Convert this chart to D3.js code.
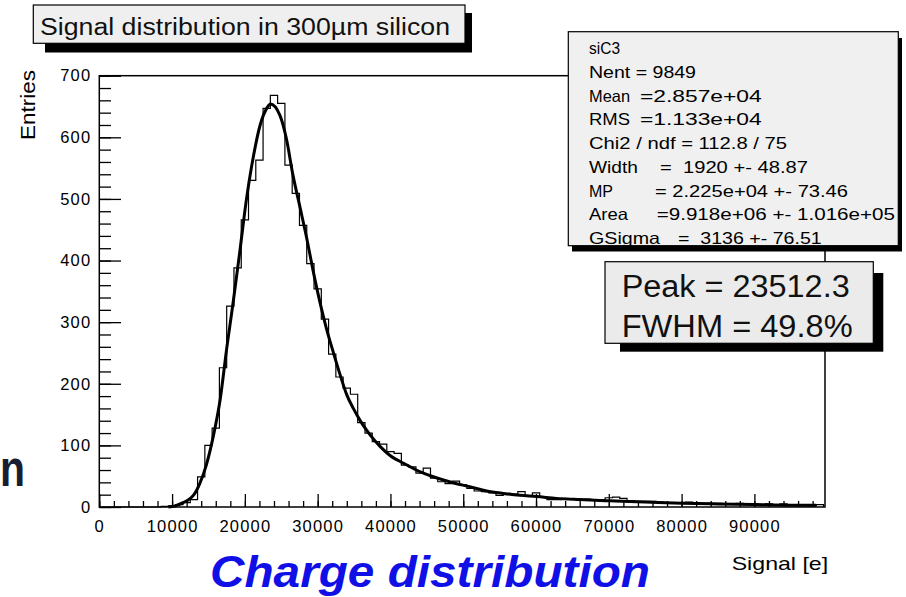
<!DOCTYPE html>
<html>
<head>
<meta charset="utf-8">
<script src="https://cdn.jsdelivr.net/npm/d3@7"></script>
<style>
  html, body { margin: 0; padding: 0; background: #ffffff; }
  svg { display: block; font-family: "Liberation Sans", Arial, Helvetica, sans-serif; }
  text { white-space: pre; }
</style>
</head>
<body>
<svg id="chart" width="906" height="597"></svg>
<script>
// ---- data -------------------------------------------------------------
// Histogram "siC3": bins of 1000 e, first listed bin covers 8500..9500
const binWidth = 1000;
const firstBinLow = 8500;
const counts = [
  1, 2, 4, 7, 12, 49, 100, 128, 226, 326,
  388, 466, 530, 563, 647, 668, 655, 555, 509, 457,
  395, 354, 305, 248, 211, 193, 183, 137, 120, 106,
  102, 90, 87, 68, 65, 55, 63, 47, 41, 38,
  42, 36, 30, 26, 25, 23, 19, 22, 21, 25,
  18, 23, 17, 12, 12, 14, 13, 12, 13, 11,
  12, 15, 16, 14, 10, 9, 9, 9, 8, 6,
  6, 7, 8, 7, 6, 6, 6, 5, 5, 6,
  4, 5, 3, 5, 3, 5, 4, 3, 3, 2, 4
];

// Fitted Landau (x) Gauss curve, sampled points
const fitX = [9500, 10500, 11500, 12500, 13000, 13800, 14700, 15700, 16600, 17500,
  18400, 19300, 20200, 21200, 22100, 23000, 23512, 24800, 25700, 26600,
  27600, 28500, 29400, 30300, 31200, 32200, 33100, 34000, 34900, 35800,
  36700, 37200, 38600, 39900, 41800, 44100, 46400, 48700, 50900, 53200,
  55500, 57800, 60100, 62800, 66000, 70000, 75000, 80000, 85000, 90000, 95000, 98500];
const fitY = [0, 2, 7, 14, 20, 38, 68, 117, 174, 257,
  333, 414, 498, 571, 620, 647, 654, 636, 598, 539,
  485, 436, 382, 333, 290, 249, 214, 182, 160, 141,
  125, 117, 98, 84, 71, 57, 47, 39, 33, 26,
  22, 19, 17, 14, 12, 10, 8, 6, 5, 4, 3, 3];

const xMajorTicks = [0, 10000, 20000, 30000, 40000, 50000, 60000, 70000, 80000, 90000];
const yMajorTicks = [0, 100, 200, 300, 400, 500, 600, 700];

const titleText = "Signal distribution in 300\u00b5m silicon";
const xTitle = "Signal [e]";
const yTitle = "Entries";
const statLabels = ["siC3", "Nent = 9849", "Mean", "RMS", "Chi2 / ndf = 112.8 / 75",
  "Width", "MP", "Area", "GSigma"];
const statValues = [null, null, "=2.857e+04", "=1.133e+04", null,
  "=  1920 +- 48.87", "= 2.225e+04 +- 73.46", "=9.918e+06 +- 1.016e+05", "=  3136 +- 76.51"];
const peakLines = ["Peak = 23512.3", "FWHM = 49.8%"];
const caption = "Charge distribution";

// ---- layout -----------------------------------------------------------
const svg = d3.select("#chart");
const frame = { left: 99.3, right: 825, top: 75.7, bottom: 507 };

const x = d3.scaleLinear().domain([0, 99700]).range([frame.left, frame.right]);
const y = d3.scaleLinear().domain([0, 700]).range([frame.bottom, frame.top]);

// ---- histogram outline -------------------------------------------------
const steps = [{ v: 0, c: 0 }];
counts.forEach((c, i) => steps.push({ v: firstBinLow + i * binWidth, c }));
steps.push({ v: firstBinLow + counts.length * binWidth, c: counts[counts.length - 1] });
steps.push({ v: firstBinLow + counts.length * binWidth, c: 0 });

svg.append("path")
  .datum(steps)
  .attr("fill", "none")
  .attr("stroke", "#000")
  .attr("stroke-width", 1.2)
  .attr("d", d3.line().x(d => x(d.v)).y(d => y(d.c)).curve(d3.curveStepAfter));

// ---- fit curve -----------------------------------------------------------
const fitPts = fitX.map((v, i) => ({ v, c: fitY[i] }));
svg.append("path")
  .datum(fitPts)
  .attr("fill", "none")
  .attr("stroke", "#000")
  .attr("stroke-width", 3)
  .attr("stroke-linejoin", "round")
  .attr("d", d3.line().x(d => x(d.v)).y(d => y(d.c)).curve(d3.curveMonotoneX));

// ---- frame + axes ------------------------------------------------------
svg.append("rect")
  .attr("x", frame.left).attr("y", frame.top)
  .attr("width", frame.right - frame.left).attr("height", frame.bottom - frame.top)
  .attr("fill", "none").attr("stroke", "#000").attr("stroke-width", 1.5);

function styleAxis(g) {
  g.select(".domain").remove();
  g.selectAll("line").attr("stroke", "#000").attr("stroke-width", 1.3);
  g.attr("font-family", null).attr("font-size", null);
  g.selectAll("text")
    .attr("fill", "#000")
    .style("font-size", "16.5px")
    .style("letter-spacing", "1.2px");
}

// x axis: major every 10000, minor every 2000 (ticks point inward)
svg.append("g")
  .attr("transform", `translate(0,${frame.bottom})`)
  .call(d3.axisBottom(x).tickValues(d3.range(0, 99700, 2000)).tickSize(-6).tickFormat(""))
  .call(styleAxis);
svg.append("g")
  .attr("transform", `translate(0,${frame.bottom})`)
  .call(d3.axisBottom(x).tickValues(xMajorTicks).tickSize(-13).tickPadding(13).tickFormat(d3.format("d")))
  .call(styleAxis);

// y axis: major every 100, minor every 20
svg.append("g")
  .attr("transform", `translate(${frame.left},0)`)
  .call(d3.axisLeft(y).tickValues(d3.range(0, 701, 20)).tickSize(-11.7).tickFormat(""))
  .call(styleAxis);
svg.append("g")
  .attr("transform", `translate(${frame.left},0)`)
  .call(d3.axisLeft(y).tickValues(yMajorTicks).tickSize(-21.7).tickPadding(8).tickFormat(d3.format("d")))
  .call(styleAxis);

// axis titles
svg.append("text")
  .attr("transform", "translate(35,70) rotate(-90)")
  .attr("text-anchor", "end")
  .attr("font-size", 21)
  .attr("textLength", 70).attr("lengthAdjust", "spacingAndGlyphs")
  .text(yTitle);

svg.append("text")
  .attr("x", 731.7).attr("y", 570)
  .attr("font-size", 19)
  .attr("textLength", 96.5).attr("lengthAdjust", "spacingAndGlyphs")
  .text(xTitle);

// ---- boxes with drop shadows --------------------------------------------
function shadowBox(bx, shadow, fill) {
  svg.append("rect")
    .attr("x", shadow.x0).attr("y", shadow.y0)
    .attr("width", shadow.x1 - shadow.x0).attr("height", shadow.y1 - shadow.y0)
    .attr("fill", "#000");
  svg.append("rect")
    .attr("x", bx.x0).attr("y", bx.y0)
    .attr("width", bx.x1 - bx.x0).attr("height", bx.y1 - bx.y0)
    .attr("fill", fill).attr("stroke", "#000").attr("stroke-width", 1.2);
}

// title pave
shadowBox({ x0: 33.3, y0: 5, x1: 465, y1: 43.3 }, { x0: 45, y0: 13, x1: 472, y1: 52.5 }, "#efefef");
svg.append("text")
  .attr("x", 40).attr("y", 35)
  .attr("font-size", 23)
  .attr("fill", "#111")
  .attr("textLength", 410).attr("lengthAdjust", "spacingAndGlyphs")
  .text(titleText);

// statistics pave
shadowBox({ x0: 568.3, y0: 31.7, x1: 898.3, y1: 245.7 }, { x0: 572, y0: 38, x1: 902, y1: 251.5 }, "#f0f0f0");
const statLabelLen = [31, 107, 41, 41, 198, 49, 24, 39, 71];
const statValueX = [0, 0, 640, 640, 0, 660, 655, 656.7, 678];
const statValueEnd = [0, 0, 761.7, 761.7, 0, 808, 848, 895, 821.7];
statLabels.forEach((s, i) => {
  const by = 54 + i * 23.75;
  svg.append("text")
    .attr("x", 589).attr("y", by)
    .attr("font-size", 16.5)
    .attr("textLength", statLabelLen[i]).attr("lengthAdjust", "spacingAndGlyphs")
    .text(s);
  if (statValues[i]) {
    svg.append("text")
      .attr("x", statValueX[i]).attr("y", by)
      .attr("font-size", 16.5)
      .attr("textLength", statValueEnd[i] - statValueX[i]).attr("lengthAdjust", "spacingAndGlyphs")
      .text(statValues[i]);
  }
});

// peak / FWHM pave
shadowBox({ x0: 605, y0: 261.7, x1: 873.3, y1: 343.3 }, { x0: 620, y0: 273, x1: 883.3, y1: 351.7 }, "#ebebeb");
const peakLen = [228, 231];
peakLines.forEach((s, i) => {
  svg.append("text")
    .attr("x", 621.7).attr("y", 296.7 + i * 40)
    .attr("font-size", 31)
    .attr("fill", "#111")
    .attr("textLength", peakLen[i]).attr("lengthAdjust", "spacingAndGlyphs")
    .text(s);
});

// ---- slide text around the plot ------------------------------------------
svg.append("text")
  .attr("x", 0).attr("y", 486)
  .attr("font-size", 52).attr("font-weight", "bold")
  .attr("fill", "#1c1c30")
  .attr("textLength", 25).attr("lengthAdjust", "spacingAndGlyphs")
  .text("n");

svg.append("text")
  .attr("x", 210).attr("y", 587)
  .attr("font-size", 44).attr("font-weight", "bold").attr("font-style", "italic")
  .attr("fill", "#1010e6")
  .attr("textLength", 440).attr("lengthAdjust", "spacingAndGlyphs")
  .text(caption);
</script>
</body>
</html>
